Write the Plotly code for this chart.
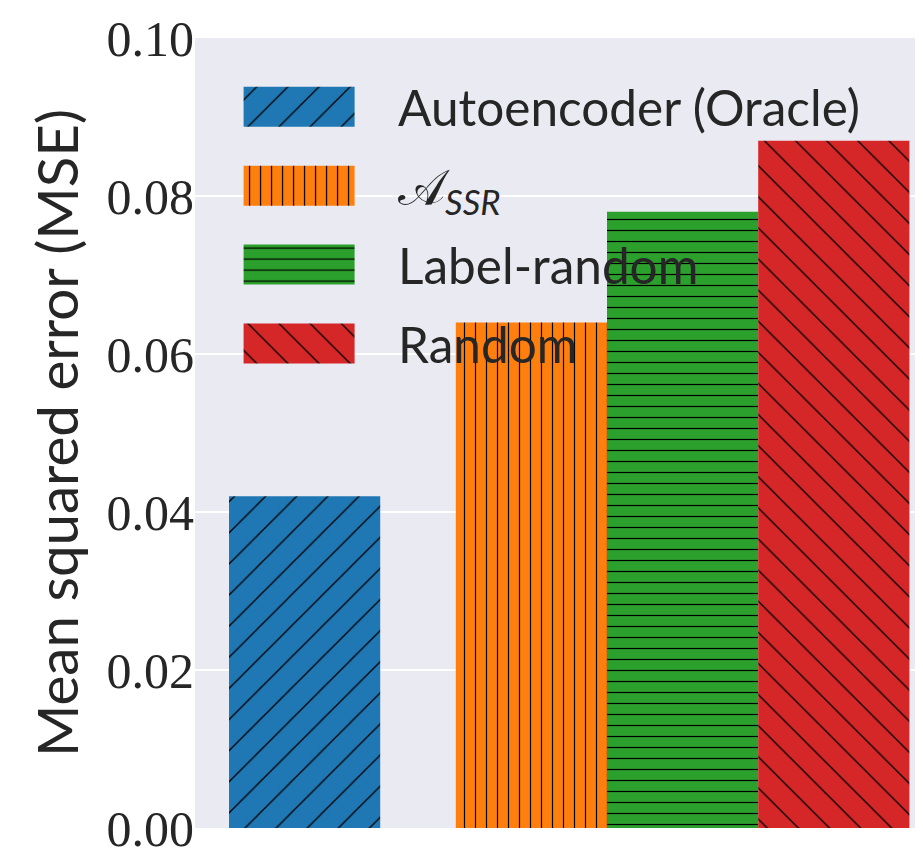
import plotly.graph_objects as go

# ---- data ----
methods = ["Autoencoder (Oracle)", "𝒜<sub><i>SSR</i></sub>", "Label-random", "Random"]
mse_values = [0.042, 0.064, 0.078, 0.087]
y_ticks = [0.00, 0.02, 0.04, 0.06, 0.08, 0.10]
y_tick_labels = ["0.00", "0.02", "0.04", "0.06", "0.08", "0.10"]

# ---- layout / style (not data) ----
bar_positions = [0, 1.5, 2.5, 3.5]
colors = ["#1f77b4", "#ff7f0e", "#2ca02c", "#d62728"]
hatches = ["/", "|", "-", "\\"]
hatch_sizes = [22, 11, 11, 22]
hatch_solid = [0.06, 0.11, 0.11, 0.06]

fig = go.Figure()
for i, name in enumerate(methods):
    fig.add_trace(go.Bar(
        x=[bar_positions[i]], y=[mse_values[i]], name=name, width=1.0,
        legendgroup=f"g{i}",
        marker=dict(color=colors[i], line=dict(width=0),
                    pattern=dict(shape=hatches[i], size=hatch_sizes[i],
                                 solidity=hatch_solid[i], fgcolor="black",
                                 bgcolor=colors[i], fillmode="replace")),
    ))

# page body has an 8px default margin, so the figure is sized/placed to compensate
fig.update_layout(
    width=915, height=845,
    margin=dict(l=187, r=0, t=30, b=25, autoexpand=False),
    paper_bgcolor="white", plot_bgcolor="#EAEAF2",
    showlegend=True,
    legend=dict(x=0.007, y=0.962, xanchor="left", yanchor="top",
                bgcolor="rgba(0,0,0,0)", itemwidth=188, tracegroupgap=11.6,
                font=dict(family="Lato", size=49.5, color="#262626")),
    xaxis=dict(range=[-0.725, 4.09], showticklabels=False, showgrid=False,
               zeroline=False, ticks="", automargin=False),
    yaxis=dict(range=[0, 0.1], tickvals=y_ticks, ticktext=y_tick_labels,
               showgrid=True, gridcolor="white", gridwidth=1.6,
               zeroline=False, ticks="", automargin=False,
               ticklabeloverflow="allow",
               tickfont=dict(family="Liberation Serif", size=50, color="#262626"),
               title=dict(text="Mean squared error (MSE)", standoff=9,
                          font=dict(family="Lato", size=56.5, color="#262626"))),
    font=dict(family="Lato", color="#262626"),
)

# enlarge legend swatches and give them the same hatch tiling as the bars
post = """
function fixLegend(){
  var bars = document.querySelectorAll('g.barlayer g.trace');
  var leg = document.querySelectorAll('g.legend g.traces');
  leg.forEach(function(t, i){
    var p = t.querySelector('g.legendpoints path');
    if(!p) return;
    p.setAttribute('d','M55.5,20H-55.5V-20H55.5Z');
    if (bars[i]) {
      var bp = bars[i].querySelector('path');
      if (bp && bp.style.fill) { p.style.fill = bp.style.fill; }
    }
  });
}
fixLegend();
setTimeout(fixLegend, 50);
setTimeout(fixLegend, 300);
var gd = document.querySelector('.plotly-graph-div');
if (gd && gd.on) { gd.on('plotly_afterplot', fixLegend); }
"""

fig.write_html("out.html", post_script=post)
